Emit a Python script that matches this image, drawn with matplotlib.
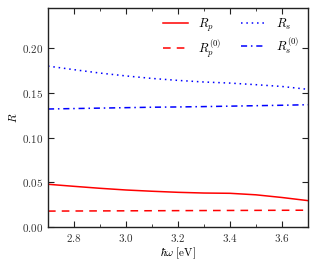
import numpy as np
import matplotlib
matplotlib.use('Agg')
from matplotlib import pyplot as plt
from matplotlib.ticker import FuncFormatter, MultipleLocator

plt.rcParams['mathtext.fontset'] = 'cm'
plt.rcParams['font.family'] = 'serif'
plt.rcParams['font.serif'] = ['DejaVu Serif']

energy = [2.7, 2.8, 2.9, 3.0, 3.1, 3.2, 3.3, 3.4, 3.5, 3.6, 3.7]
Rp = [0.0478, 0.0455, 0.0433, 0.0414, 0.0400, 0.0388, 0.0380, 0.0377, 0.0360, 0.0330, 0.0295]
Rp0 = [0.0178, 0.0179, 0.0180, 0.0181, 0.0182, 0.0183, 0.0184, 0.0185, 0.0186, 0.0187, 0.0188]
Rs = [0.1800, 0.1760, 0.1722, 0.1690, 0.1662, 0.1640, 0.1622, 0.1610, 0.1592, 0.1572, 0.1540]
Rs0 = [0.1320, 0.1325, 0.1330, 0.1335, 0.1340, 0.1343, 0.1347, 0.1352, 0.1357, 0.1362, 0.1368]

fig = plt.figure(figsize=(3.11, 2.61), dpi=100)
ax = fig.add_axes([48/311, 34/261, 260/311, 219/261])

ax.plot(energy, Rp, color='red', lw=1.1, label=r'$R_p$')
ax.plot(energy, Rp0, color='red', lw=1.1, ls=(0, (5, 4)), label=r'$R_p^{(0)}$')
ax.plot(energy, Rs, color='blue', lw=1.1, ls=(0, (1, 2.5)), label=r'$R_s$')
ax.plot(energy, Rs0, color='blue', lw=1.1, ls=(0, (4, 2.5, 1, 2.5)), label=r'$R_s^{(0)}$')

ax.set_xlim(2.7, 3.7)
ax.set_ylim(0, 0.245)
ax.xaxis.set_major_locator(MultipleLocator(0.2))
ax.xaxis.set_minor_locator(MultipleLocator(0.1))
ax.yaxis.set_major_locator(MultipleLocator(0.05))
ax.xaxis.set_major_formatter(FuncFormatter(lambda v, p: r'$%.1f$' % v))
ax.yaxis.set_major_formatter(FuncFormatter(lambda v, p: r'$%.2f$' % v))
ax.tick_params(which='both', direction='in', top=True, right=True, labelsize=8, colors='#222222', labelcolor='#333333')
ax.tick_params(which='major', length=4)
ax.tick_params(which='minor', length=2)
for s in ax.spines.values():
    s.set_linewidth(1.0)
    s.set_color('#222222')

ax.set_xlabel(r'$\hbar\omega\ [\mathrm{eV}]$', fontsize=8, labelpad=1)
ax.set_ylabel(r'$R$', fontsize=8, labelpad=2)

ax.legend(loc='upper right', ncol=2, frameon=False, fontsize=9,
          handlelength=2.0, handletextpad=0.8, columnspacing=1.6,
          borderaxespad=0.3, labelspacing=0.3)

fig.savefig('out.png', dpi=100)
